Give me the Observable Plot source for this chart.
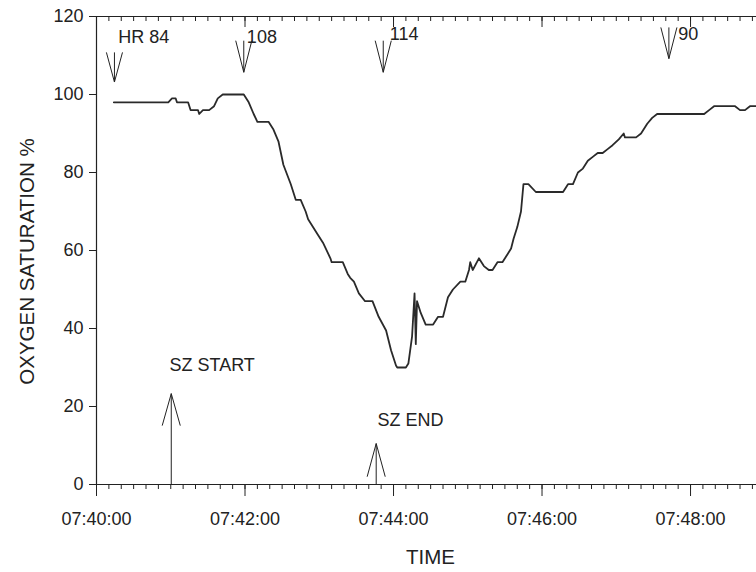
<!DOCTYPE html>
<html><head><meta charset="utf-8">
<script src="https://cdn.jsdelivr.net/npm/d3@7"></script>
<script src="https://cdn.jsdelivr.net/npm/@observablehq/plot@0.6"></script>
<style>body{margin:0;background:#fff} svg{display:block}</style>
</head><body><div id="chart"></div>
<script>
// seconds elapsed since 07:40:00
const seconds = [14,58,61,64,65,74,76,82,83,86,91,95,98,102,119,123,127,130,139,143,147,151,157,161,165,169,171,179,183,189,190,199,203,205,208,212,217,223,228,234,238,242,243,250,252,255,257,258,259,262,266,272,276,280,284,288,294,298,301,302,304,309,313,317,320,324,328,332,335,337,340,343,345,349,355,377,381,385,389,393,397,401,405,409,413,417,422,426,427,436,440,445,449,453,491,495,499,516,520,524,528,533];
const saturation = [98,98,99,99,98,98,96,96,95,96,96,97,99,100,100,98,95,93,93,91,88,82,77,73,73,70,68,64,62,58,57,57,54,53,52,49,47,47,43,39.5,34.4,30.5,30,30,31,38,49,36,47,44,41,41,43,43,48,50,52,52,55,57,55,58,56,55,55,57,57,59,60.5,63,66,70,77,77,75,75,77,77,80,81,83,84,85,85,86,87,88.5,90,89,89,90,92.5,94,95,95,96,97,97,96,96,97,97];

// heart-rate markers along the top
const hrTime = [14.5, 119, 231.7, 462.5];
const hrLabel = ["HR 84", "108", "114", "90"];
const hrTip = [103.2, 105.7, 105.7, 109.2];
const hrTail = [110.8, 113.8, 113.8, 117.2];
const hrLabelTime = [17.5, 121.5, 237, 470];
const hrLabelValue = [114.6, 114.6, 115.4, 115.5];

// seizure markers along the bottom
const szTime = [60.4, 226];
const szLabel = ["SZ START", "SZ END"];
const szTip = [23.3, 10.5];
const szWingEnd = [15.1, 2];
const szLabelTime = [59, 227];
const szLabelValue = [30.5, 16.4];

const xMajorTicks = [0, 120, 240, 360, 480];
const xMajorLabels = ["07:40:00", "07:42:00", "07:44:00", "07:46:00", "07:48:00"];
const xMinorTicks = d3.range(0, 534, 10);
const yTicks = [0, 20, 40, 60, 80, 100, 120];

const series = seconds.map((t, i) => ({t, v: saturation[i]}));
const hr = hrTime.map((t, i) => ({t, label: hrLabel[i], tip: hrTip[i], tail: hrTail[i], lt: hrLabelTime[i], lv: hrLabelValue[i]}));
const sz = szTime.map((t, i) => ({t, label: szLabel[i], tip: szTip[i], wing: szWingEnd[i], lt: szLabelTime[i], lv: szLabelValue[i]}));

const INK = "#222";
const HRW = 6.5, SZW = 7.3; // arrow wing half-width (seconds)
const YMAX = 120, PX = 120 / 468; // value units per pixel for inner top ticks

const chart = Plot.plot({
  width: 756, height: 572,
  marginLeft: 96, marginRight: 0, marginTop: 16, marginBottom: 88,
  style: {fontFamily: "'Liberation Sans', Arial, sans-serif", color: INK, background: "#fff"},
  x: {domain: [0, 533.3], axis: null},
  y: {domain: [0, 120], axis: null},
  marks: [
    // frame lines
    Plot.ruleY([0, 120], {stroke: INK, strokeWidth: 1.2}),
    Plot.ruleX([0], {stroke: INK, strokeWidth: 1.2}),
    // bottom ticks
    Plot.axisX(xMinorTicks, {anchor: "bottom", tickSize: 5, tickFormat: () => "", stroke: INK}),
    Plot.axisX(xMajorTicks, {anchor: "bottom", tickSize: 12, tickPadding: 16, fontSize: 18, fill: INK, stroke: INK,
      tickFormat: d => xMajorLabels[xMajorTicks.indexOf(d)]}),
    // top ticks (inward)
    Plot.ruleX(xMinorTicks, {x: d => d, y1: YMAX, y2: YMAX - 5 * PX, stroke: INK, strokeWidth: 1}),
    Plot.ruleX(xMajorTicks, {x: d => d, y1: YMAX, y2: YMAX - 11 * PX, stroke: INK, strokeWidth: 1}),
    // y axis
    Plot.axisY(yTicks, {anchor: "left", tickSize: 7, tickPadding: 6, fontSize: 18, fill: INK, stroke: INK}),
    // axis titles
    Plot.text(["OXYGEN SATURATION %"], {frameAnchor: "left", rotate: -90, dx: -69, dy: 11, fontSize: 20.5,
      textAnchor: "middle", lineAnchor: "middle", fill: INK}),
    Plot.text(["TIME"], {frameAnchor: "bottom", dx: 4, dy: 73, fontSize: 20.5, textAnchor: "middle", lineAnchor: "middle", fill: INK}),
    // saturation trace
    Plot.line(series, {x: "t", y: "v", stroke: "#2a2a2a", strokeWidth: 1.8}),
    // HR arrows
    Plot.link(hr, {x1: "t", x2: "t", y1: "tail", y2: "tip", stroke: INK, strokeWidth: 1}),
    Plot.link(hr, {x1: d => d.t - HRW, x2: "t", y1: "tail", y2: "tip", stroke: INK, strokeWidth: 1}),
    Plot.link(hr, {x1: d => d.t + HRW, x2: "t", y1: "tail", y2: "tip", stroke: INK, strokeWidth: 1}),
    Plot.text(hr, {x: "lt", y: "lv", text: "label", textAnchor: "start", fontSize: 18, fill: INK}),
    // SZ arrows
    Plot.link(sz, {x1: "t", x2: "t", y1: 0, y2: "tip", stroke: INK, strokeWidth: 1}),
    Plot.link(sz, {x1: d => d.t - SZW, x2: "t", y1: "wing", y2: "tip", stroke: INK, strokeWidth: 1}),
    Plot.link(sz, {x1: d => d.t + SZW, x2: "t", y1: "wing", y2: "tip", stroke: INK, strokeWidth: 1}),
    Plot.text(sz, {x: "lt", y: "lv", text: "label", textAnchor: "start", fontSize: 18, fill: INK})
  ]
});
document.getElementById("chart").appendChild(chart);
</script>
</body></html>
